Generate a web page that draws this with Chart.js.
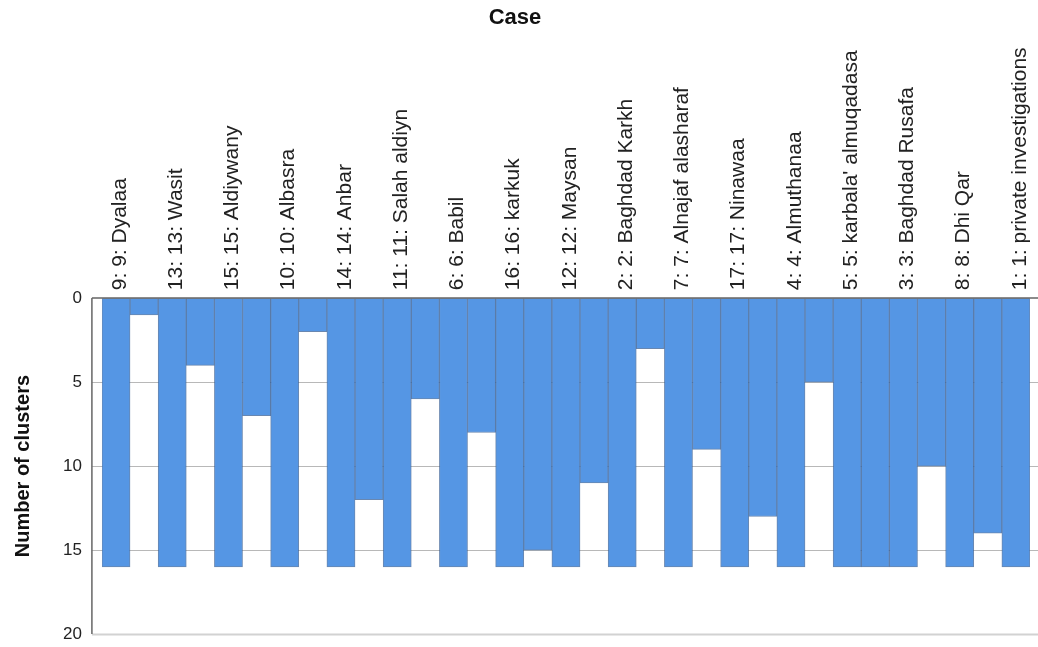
<!DOCTYPE html>
<html>
<head>
<meta charset="utf-8">
<script src="https://cdn.jsdelivr.net/npm/chart.js@4"></script>
<style>
  html, body { margin: 0; padding: 0; background: #fff; }
  #wrap { width: 1038px; height: 647px; }
</style>
</head>
<body>
<div id="wrap"><canvas id="chart"></canvas></div>
<script>
// cases in icicle order
var cases = ["9: 9: Dyalaa", "13: 13: Wasit", "15: 15: Aldiywany", "10: 10: Albasra", "14: 14: Anbar",
    "11: 11: Salah aldiyn", "6: 6: Babil", "16: 16: karkuk", "12: 12: Maysan", "2: 2: Baghdad Karkh",
    "7: 7: Alnajaf alasharaf", "17: 17: Ninawaa", "4: 4: Almuthanaa", "5: 5: karbala' almuqadasa",
    "3: 3: Baghdad Rusafa", "8: 8: Dhi Qar", "1: 1: private investigations"];
// number of clusters at which neighbouring cases get joined (gap between case i and i+1)
var joins = [1, 4, 7, 2, 12, 6, 8, 15, 11, 3, 9, 13, 5, 16, 10, 14];
var maxClusters = 16;
var yTicks = [0, 5, 10, 15, 20];

// columns: case, gap, case, gap ...
var labels = [];
var values = [];
for (var i = 0; i < cases.length; i++) {
    labels.push(cases[i]);
    values.push(maxClusters);
    if (i < joins.length) {
        labels.push("");
        values.push(joins[i]);
    }
}

// axis line + gridlines that run a little past the bars
var frame = {
    id: 'frame',
    beforeDatasetsDraw: function(chart) {
        var ctx = chart.ctx, a = chart.chartArea, y = chart.scales.y;
        ctx.save();
        yTicks.forEach(function(t) {
            if (t === 0) return;
            var py = Math.round(y.getPixelForValue(t));
            ctx.strokeStyle = t === 20 ? '#d2d2d2' : '#b8b8b8';
            ctx.lineWidth = t === 20 ? 2 : 1;
            ctx.beginPath();
            ctx.moveTo(a.left - 10, py + 0.5);
            ctx.lineTo(a.right + 8, py + 0.5);
            ctx.stroke();
        });
        ctx.restore();
    },
    afterDatasetsDraw: function(chart) {
        var ctx = chart.ctx, a = chart.chartArea, y = chart.scales.y;
        ctx.save();
        ctx.strokeStyle = '#666';
        ctx.lineWidth = 1.5;
        var py = Math.round(y.getPixelForValue(0));
        ctx.beginPath();
        ctx.moveTo(a.left - 10, py);
        ctx.lineTo(a.right + 8, py);
        ctx.moveTo(a.left - 10, py);
        ctx.lineTo(a.left - 10, a.bottom);
        ctx.stroke();
        ctx.restore();
    }
};

var ctx = document.getElementById('chart').getContext('2d');
var myChart = new Chart(ctx, {
    type: 'bar',
    data: {
        labels: labels,
        datasets: [{
            data: values,
            backgroundColor: 'rgb(85,150,228)',
            borderColor: 'rgba(55,95,150,0.75)',
            borderWidth: 1,
            borderSkipped: false,
            barPercentage: 1,
            categoryPercentage: 1
        }]
    },
    options: {
        responsive: true,
        maintainAspectRatio: false,
        animation: false,
        layout: { padding: { left: 0, right: 8, top: 0, bottom: 13 } },
        plugins: {
            legend: { display: false },
            tooltip: { enabled: false },
            title: {
                display: true,
                text: 'Case',
                color: '#111',
                font: { family: 'Liberation Sans, Arial', size: 22, weight: 'bold' },
                padding: { top: 5, bottom: 8 }
            }
        },
        scales: {
            x: {
                position: 'top',
                grid: { display: false, drawTicks: false },
                border: { display: false },
                ticks: {
                    autoSkip: false,
                    maxRotation: 90,
                    minRotation: 90,
                    padding: 8,
                    labelOffset: 29,
                    color: '#222',
                    font: { family: 'Liberation Sans, Arial', size: 21 }
                }
            },
            y: {
                reverse: true,
                min: 0,
                max: 20,
                // grid hidden, tickLength only used to push the labels off the axis
                grid: { display: false, drawTicks: true, tickLength: 20 },
                border: { display: false },
                ticks: {
                    stepSize: 5,
                    padding: 0,
                    color: '#222',
                    font: { family: 'Liberation Sans, Arial', size: 17 }
                },
                title: {
                    display: true,
                    text: 'Number of clusters',
                    color: '#111',
                    font: { family: 'Liberation Sans, Arial', size: 20, weight: 'bold' },
                    padding: { top: 11, bottom: 28 }
                }
            }
        }
    },
    plugins: [frame]
});
</script>
</body>
</html>
